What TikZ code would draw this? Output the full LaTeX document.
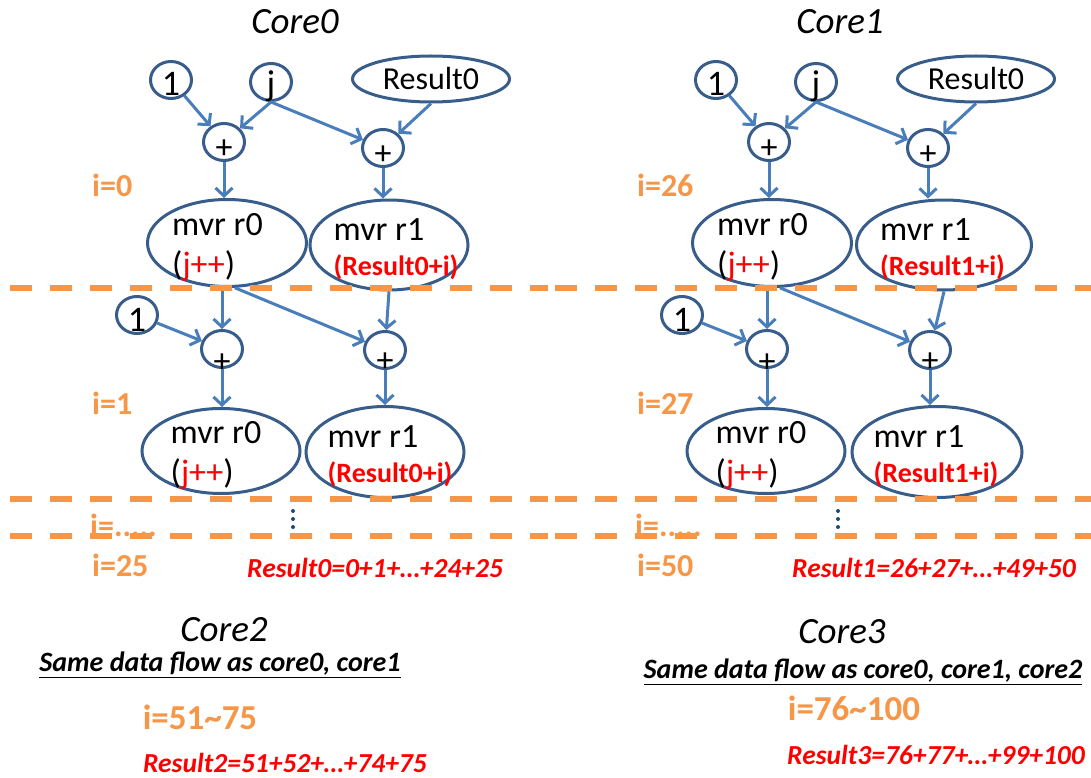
\documentclass[tikz,border=0pt]{standalone}
\usepackage{fontspec}
\setmainfont{Carlito}
\usetikzlibrary{arrows.meta,shapes.geometric}
\definecolor{nodeblue}{HTML}{385D8A}
\definecolor{arrowblue}{HTML}{4A7EBB}
\definecolor{iterorange}{HTML}{F79646}
\definecolor{sumred}{HTML}{FF0000}
\definecolor{dotblue}{HTML}{1F497D}
% text that sits low in its circle
\newcommand{\lowered}[2]{\smash{\raisebox{-#1}{#2}}}

\begin{document}
\begin{tikzpicture}[x=1pt, y=-1pt,
  every node/.style={inner sep=0pt},
  leaf/.style={ellipse, draw=nodeblue, line width=3pt, minimum width=41pt, minimum height=37pt, font=\fontsize{36}{40}\selectfont},
  plusnode/.style={leaf, font=\fontsize{34}{40}\selectfont},
  regnode/.style={ellipse, draw=nodeblue, line width=3pt, minimum height=88pt},
  regtext/.style={anchor=west, align=left, font=\fontsize{34}{40}\selectfont},
  flow/.style={draw=arrowblue, line width=3pt, -{Straight Barb[length=8pt,width=17pt]}},
  sep/.style={draw=iterorange, line width=5.5pt, dash pattern=on 22pt off 18pt},
  iter/.style={text=iterorange, anchor=west, font=\bfseries\fontsize{32}{36}\selectfont},
  sumline/.style={text=sumred, font=\bfseries\itshape\fontsize{27.5}{32}\selectfont},
  coretitle/.style={font=\itshape\fontsize{37}{42}\selectfont},
  note/.style={font=\bfseries\itshape\fontsize{28}{32}\selectfont}
]
\useasboundingbox (0,0) rectangle (1091,778);

% core 0 and core 1
\foreach \n/\sx/\ia/\ib/\iz/\rr/\xb/\wb/\xd/\wdd/\sumtext in {
  0/0/0/1/25/Result0/389/158/385/158/{Result0=0+1+\dots+24+25},
  1/545/26/27/50/Result1/399/175/392/170/{Result1=26+27+\dots+49+50}}{
\begin{scope}[xshift=\sx]
\node[coretitle] (title\n) at (295,22) {Core\n};

% first iteration
\node[leaf] (one\n) at (171,80) {\lowered{16pt}{1}};
\node[leaf] (j\n) at (271,82) {\lowered{14pt}{j}};
\node[regnode, minimum width=157pt, minimum height=46pt, font=\fontsize{32}{36}\selectfont] (res\n) at (431,79) {Result0};
\node[plusnode] (pa\n) at (224,142) {\lowered{17pt}{+}};
\node[plusnode] (pb\n) at (383,148) {\lowered{17pt}{+}};
\node[regnode, minimum width=159pt, minimum height=87pt] (ra\n) at (227,243) {};
\node[regnode, minimum width=\wb, minimum height=90pt] (rb\n) at (\xb,245) {};
\node[regtext] (tra\n) at ([xshift=26pt,yshift=-4pt]ra\n.west) {mvr r0\\(\textcolor{sumred}{j++})};
\node[regtext] (trb\n) at ([xshift=25pt,yshift=-4pt]rb\n.west) {mvr r1\\[-5pt]{\bfseries\fontsize{28}{32}\selectfont\color{sumred}(\rr+i)}};

% second iteration
\node[leaf] (onel\n) at (137,315) {\lowered{16pt}{1}};
\node[plusnode] (pc\n) at (222,349) {\lowered{23pt}{+}};
\node[plusnode] (pd\n) at (385,350) {\lowered{21pt}{+}};
\node[regnode, minimum width=158pt, minimum height=85pt] (rc\n) at (221,451) {};
\node[regnode, minimum width=\wdd, minimum height=91pt] (rd\n) at (\xd,452) {};
\node[regtext] (trc\n) at ([xshift=30pt,yshift=-4pt]rc\n.west) {mvr r0\\(\textcolor{sumred}{j++})};
\node[regtext] (trd\n) at ([xshift=23pt,yshift=-4pt]rd\n.west) {mvr r1\\[-5pt]{\bfseries\fontsize{28}{32}\selectfont\color{sumred}(\rr+i)}};

\draw[flow] (one\n) -- (pa\n);
\draw[flow] (j\n.south) -- (pa\n);
\draw[flow] (j\n.south) -- (pb\n);
\draw[flow] (res\n.south) -- (pb\n);
\draw[flow] (pa\n) -- (pa\n |- ra\n.north);
\draw[flow] (pb\n) -- (pb\n |- rb\n.north);
\draw[flow] (pc\n |- ra\n.south) -- (pc\n);
\draw[flow] (ra\n.-80) -- (pd\n);
\draw[flow] (rb\n.south) -- (pd\n);
\draw[flow] (onel\n) -- (pc\n);
\draw[flow] (pc\n) -- (pc\n |- rc\n.north);
\draw[flow] (pd\n) -- (pd\n |- rd\n.north);

% iterations
\foreach \y in {288,499,536} \draw[sep] (10,\y) -- (548,\y);
\node[iter] (ia\n) at (92,185) {i=\ia};
\node[iter] (ib\n) at (92,403) {i=\ib};
\node[iter, anchor=base west] (idots\n) at (90,536) {i=.....};
\node[iter] (iz\n) at (92,565) {i=\iz};
\foreach \d in {511,519,527} \fill[dotblue] (293,\d) circle (2pt);
\node[sumline, anchor=west] (sum\n) at (247,568) {\sumtext};
\end{scope}
}

% core 2 and core 3
\node[coretitle] (title2) at (224,630) {Core2};
\node[note] (note2) at (220,665) {\underline{Same data flow as core0, core1}};
\node[iter, anchor=center, font=\bfseries\fontsize{35}{40}\selectfont] (range2) at (200,717) {i=51\textasciitilde75};
\node[sumline] (sum2) at (285,763) {Result2=51+52+\dots+74+75};

\node[coretitle] (title3) at (842,632) {Core3};
\node[note] (note3) at (863,672) {\underline{Same data flow as core0, core1, core2}};
\node[iter, anchor=center, font=\bfseries\fontsize{35}{40}\selectfont] (range3) at (854,708) {i=76\textasciitilde100};
\node[sumline] (sum3) at (936,755) {Result3=76+77+\dots+99+100};
\end{tikzpicture}
\end{document}
